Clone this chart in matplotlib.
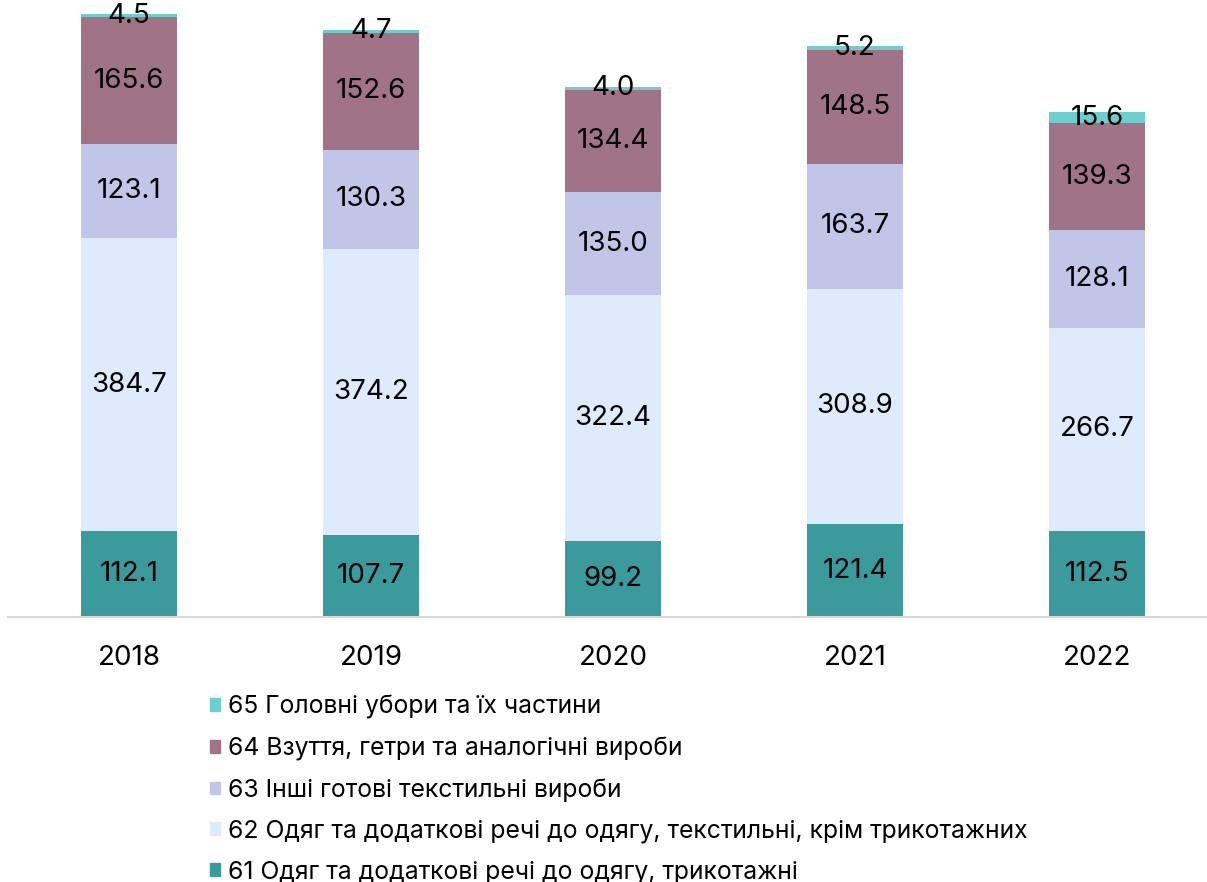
import matplotlib
matplotlib.use("Agg")
import matplotlib.pyplot as plt
from matplotlib.patches import Patch
import numpy as np

plt.rcParams["font.family"] = ["Inter", "DejaVu Sans"]

years = ["2018", "2019", "2020", "2021", "2022"]
s61 = [112.1, 107.7, 99.2, 121.4, 112.5]
s62 = [384.7, 374.2, 322.4, 308.9, 266.7]
s63 = [123.1, 130.3, 135.0, 163.7, 128.1]
s64 = [165.6, 152.6, 134.4, 148.5, 139.3]
s65 = [4.5, 4.7, 4.0, 5.2, 15.6]

names = [
    "61 Одяг та додаткові речі до одягу, трикотажні",
    "62 Одяг та додаткові речі до одягу, текстильні, крім трикотажних",
    "63 Інші готові текстильні вироби",
    "64 Взуття, гетри та аналогічні вироби",
    "65 Головні убори та їх частини",
]
colors = ["#3A9A9C", "#DDEBFC", "#C1C6E8", "#A07386", "#6ECDCD"]
series = [s61, s62, s63, s64, s65]

fig = plt.figure(figsize=(12.07, 8.82), dpi=100)
ax = fig.add_axes([8 / 1207, 1 - 617 / 882, 1210 / 1207, 617 / 882])

x = np.arange(len(years))
bottom = np.zeros(len(years))
for vals, col in zip(series, colors):
    vals = np.array(vals)
    ax.bar(x, vals, bottom=bottom, width=0.4, color=col)
    for xi, b, v in zip(x, bottom, vals):
        ax.text(xi, b + v / 2, f"{v:.1f}", ha="center", va="center",
                fontsize=20, color="black")
    bottom += vals

ax.set_xlim(-0.5, 4.5)
ax.set_ylim(0, 790 * 617 / 603)
ax.set_xticks(x)
ax.set_xticklabels(years, fontsize=20)
ax.tick_params(axis="x", length=0, pad=20)
ax.set_yticks([])
for side in ["top", "right", "left"]:
    ax.spines[side].set_visible(False)
ax.spines["bottom"].set_color("#D9D9D9")
ax.spines["bottom"].set_linewidth(1.5)

handles = [Patch(color=c, label=n) for c, n in zip(colors, names)][::-1]
fig.legend(handles=handles, loc="upper left", bbox_to_anchor=(210 / 1207, 1 - 695 / 882),
           frameon=False, fontsize=17.8, handlelength=0.42, handleheight=0.42,
           handletextpad=0.3, labelspacing=0.71, borderpad=0, borderaxespad=0)

fig.savefig("out.png", dpi=100)
